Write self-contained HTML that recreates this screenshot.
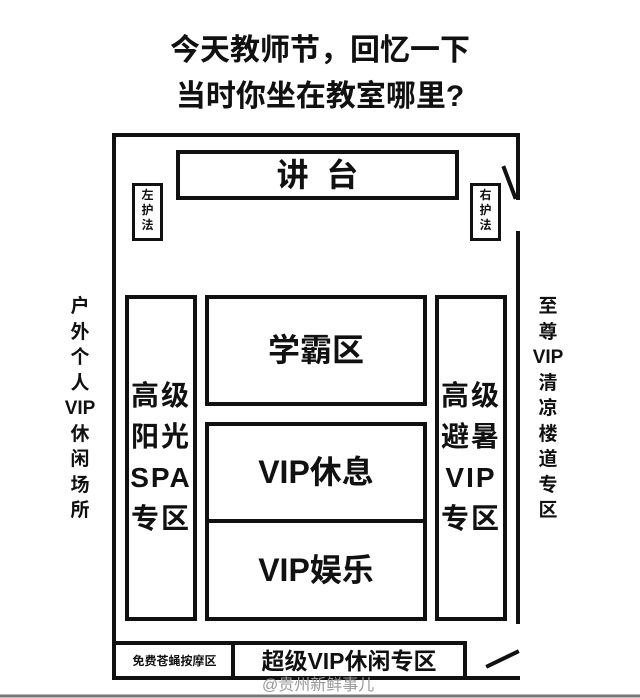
<!DOCTYPE html>
<html><head><meta charset="utf-8"><style>
body{margin:0;width:640px;height:698px;background:#fff;position:relative;overflow:hidden;font-family:"Liberation Sans","Noto Sans CJK SC",sans-serif;color:#111}
.a{position:absolute}
.b{position:absolute;border:4px solid #111;box-sizing:border-box}
.t{position:absolute;text-align:center;font-weight:bold}
</style></head><body>
<div class="t" style="left:0;width:640px;top:31px;font-size:30px;line-height:40px">今天教师节，回忆一下</div>
<div class="t" style="left:0;width:640px;top:77px;font-size:30px;line-height:40px">当时你坐在教室哪里?</div>
<svg class="a" style="left:0;top:0" width="640" height="698">
<g stroke="#111" stroke-width="4" fill="none" stroke-linecap="square">
<path d="M518 198 L518 135 L114 135 L114 678 L465 678 L465 643 L114 643"/>
<line x1="233" y1="643" x2="233" y2="678"/>
<line x1="518" y1="233" x2="518" y2="622"/>
<line x1="504" y1="168" x2="515" y2="197"/>
<line x1="488" y1="666" x2="517" y2="652"/>
<line x1="465" y1="678" x2="518" y2="678"/>
</g>
<line x1="0" y1="696" x2="640" y2="696" stroke="#777" stroke-width="3"/>
</svg>
<div class="b" style="left:176px;top:150px;width:283px;height:50px"></div>
<div class="t" style="left:176px;width:283px;top:154px;font-size:32px;line-height:42px">讲&nbsp;&nbsp;台</div>
<div class="b" style="left:132px;top:183px;width:31px;height:58px;border-width:3px"></div>
<div class="t" style="left:132px;width:31px;top:188px;font-size:12px;line-height:15px">左<br>护<br>法</div>
<div class="b" style="left:470px;top:183px;width:31px;height:58px;border-width:3px"></div>
<div class="t" style="left:470px;width:31px;top:188px;font-size:12px;line-height:15px">右<br>护<br>法</div>
<div class="b" style="left:125px;top:295px;width:72px;height:326px"></div>
<div class="t" style="left:125px;width:72px;top:375px;font-size:28px;line-height:41px;letter-spacing:2px">高级<br>阳光<br>SPA<br>专区</div>
<div class="b" style="left:435px;top:295px;width:72px;height:326px"></div>
<div class="t" style="left:435px;width:72px;top:375px;font-size:28px;line-height:41px;letter-spacing:2px">高级<br>避暑<br>VIP<br>专区</div>
<div class="b" style="left:205px;top:295px;width:222px;height:111px"></div>
<div class="t" style="left:205px;width:222px;top:328px;font-size:32px;line-height:44px">学霸区</div>
<div class="b" style="left:205px;top:422px;width:222px;height:101px"></div>
<div class="t" style="left:205px;width:222px;top:450px;font-size:32px;line-height:44px">VIP休息</div>
<div class="b" style="left:205px;top:519px;width:222px;height:102px"></div>
<div class="t" style="left:205px;width:222px;top:548px;font-size:32px;line-height:44px">VIP娱乐</div>
<div class="t" style="left:60px;width:40px;top:294px;font-size:19px;line-height:25.5px">户<br>外<br>个<br>人<br>VIP<br>休<br>闲<br>场<br>所</div>
<div class="t" style="left:528px;width:40px;top:294px;font-size:19px;line-height:25.5px">至<br>尊<br>VIP<br>清<br>凉<br>楼<br>道<br>专<br>区</div>
<div class="t" style="left:116px;width:117px;top:652px;font-size:12px;line-height:18px">免费苍蝇按摩区</div>
<div class="t" style="left:233px;width:232px;top:646px;font-size:23px;line-height:30px">超级VIP休闲专区</div>
<div class="a" style="left:262px;top:676px;font-size:16px;line-height:20px;color:#999">@贵州新鲜事儿</div>
</body></html>
